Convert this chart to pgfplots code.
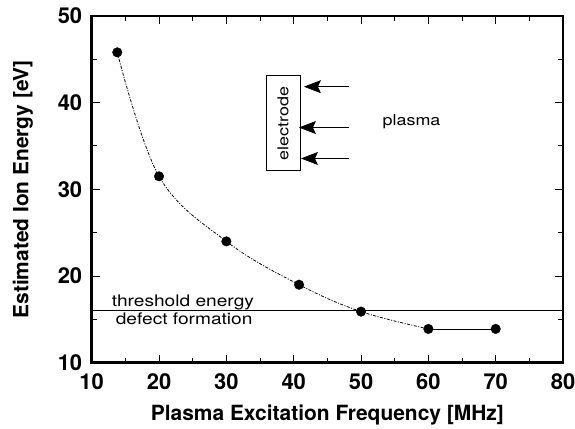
\documentclass[border=0pt]{standalone}
\usepackage{fontspec}
\setmainfont{TeX Gyre Heros}
\newfontfamily\widefont[FakeStretch=1.2]{TeX Gyre Heros}
\usepackage{pgfplots}
\pgfplotsset{compat=1.18}
\usetikzlibrary{arrows.meta, calc}

\begin{document}
\begin{tikzpicture}
\begin{axis}[
  name=ax,
  scale only axis,
  width=473pt, height=348pt,
  xmin=10, xmax=80, ymin=10, ymax=50,
  xtick={10,20,...,80}, ytick={10,20,...,50},
  minor x tick num=1, minor y tick num=1,
  tick align=inside, tick pos=both,
  major tick length=8pt, minor tick length=5pt,
  axis line style={line width=2.5pt},
  every tick/.style={black, line width=1pt},
  /pgf/number format/assume math mode=true,
  ticklabel style={font=\fontsize{22}{24}\selectfont\bfseries},
  xticklabel style={yshift=-7pt},
  yticklabel style={xshift=-6pt},
  xlabel={Plasma Excitation Frequency [MHz]},
  ylabel={Estimated Ion Energy [eV]},
  label style={font=\fontsize{21}{24}\selectfont\bfseries},
  xlabel style={at={(axis description cs:0.5,0)}, anchor=center, yshift=-52pt},
  ylabel style={at={(axis description cs:0,0.5)}, anchor=center, yshift=69pt},
  clip=false,
]
% fitted curve through the measured points
\addplot[black, dash pattern=on 3pt off 1.5pt on 1pt off 1.5pt, line width=0.8pt, smooth, tension=0.6]
  coordinates {(13.8,45.8)(20,31.5)(30,24)(40.8,19)(50,15.9)(60,13.9)};
\addplot[black, line width=0.6pt] coordinates {(60,13.9)(70,13.9)};
% measured points
\addplot[only marks, mark=*, mark size=4.8pt, black]
  coordinates {(13.8,45.8)(20,31.5)(30,24)(40.8,19)(50,15.9)(60,13.9)(70,13.9)};
% threshold line
\addplot[black, line width=0.7pt] coordinates {(10,16)(80,16)};
\node[anchor=base west, inner sep=0pt, font=\widefont\fontsize{16}{18}\selectfont]
  at (axis cs:12.96,16.5) {threshold energy};
\node[anchor=north west, inner sep=0pt, font=\widefont\fontsize{16}{18}\selectfont]
  at (axis cs:13.55,15.75) {defect formation};
% electrode sketch
\draw[black, line width=0.8pt] (axis cs:35.9,32.2) rectangle (axis cs:40.93,43.1);
\node[rotate=90, font=\widefont\fontsize{15}{17}\selectfont] at (axis cs:38.4,37.6) {electrode};
\draw[-{Stealth[length=17pt,width=13pt,inset=3pt]}, line width=0.7pt] (axis cs:48.18,41.84) -- (axis cs:41.52,41.84);
\draw[-{Stealth[length=17pt,width=13pt,inset=3pt]}, line width=0.7pt] (axis cs:48.18,37.13) -- (axis cs:40.78,37.13);
\draw[-{Stealth[length=17pt,width=13pt,inset=3pt]}, line width=0.7pt] (axis cs:48.18,33.56) -- (axis cs:41.08,33.56);
\node[font=\widefont\fontsize{15}{17}\selectfont] at (axis cs:57.5,37.8) {plasma};
\end{axis}
\pgfresetboundingbox
\path ($(ax.south west)+(-92pt,-66pt)$) rectangle ($(ax.north east)+(12pt,16pt)$);
\end{tikzpicture}
\end{document}
